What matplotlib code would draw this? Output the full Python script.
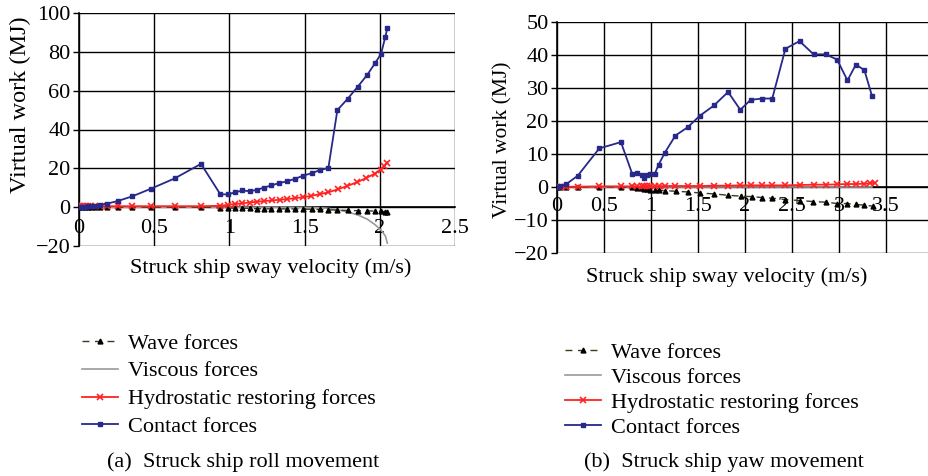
import matplotlib
matplotlib.use("Agg")
import matplotlib.pyplot as plt

plt.rcParams["font.family"] = ["Liberation Serif", "DejaVu Serif"]

# ---------------------------------------------------------------------------
# (a) roll movement
# ---------------------------------------------------------------------------
roll_v = [0.0, 0.018, 0.038, 0.06, 0.082, 0.106, 0.137, 0.186, 0.259, 0.355,
          0.481, 0.636, 0.811, 0.94, 0.99, 1.037, 1.086, 1.135, 1.183, 1.23,
          1.279, 1.33, 1.383, 1.436, 1.49, 1.547, 1.602, 1.658, 1.718, 1.786,
          1.853, 1.917, 1.968, 2.008, 2.037, 2.05]
roll_contact = [0.3, 0.3, 0.3, 0.4, 0.5, 0.7, 1.1, 1.8, 3.2, 5.6,
                9.6, 14.8, 22.3, 6.6, 6.6, 7.6, 8.6, 8.2, 8.9, 10.1,
                11.2, 12.4, 13.3, 14.6, 16.2, 17.5, 19.1, 20.2, 50.0, 55.8,
                62.0, 68.2, 74.1, 78.9, 87.8, 92.1]

roll_hyd_v = [0.0, 0.018, 0.038, 0.06, 0.082, 0.106, 0.137, 0.186, 0.259, 0.355,
              0.481, 0.636, 0.811, 0.94, 0.99, 1.037, 1.086, 1.134, 1.183, 1.229,
              1.283, 1.334, 1.385, 1.438, 1.491, 1.544, 1.6, 1.655, 1.721, 1.783,
              1.85, 1.907, 1.965, 2.005, 2.03, 2.05]
roll_hydro = [0.5, 0.5, 0.5, 0.5, 0.5, 0.5, 0.5, 0.5, 0.5, 0.5,
              0.5, 0.5, 0.5, 0.7, 1.2, 1.6, 2.0, 2.4, 2.8, 3.1,
              3.5, 3.8, 4.2, 4.6, 5.2, 5.8, 6.7, 7.6, 9.2, 10.9,
              12.9, 14.9, 17.2, 19.3, 21.2, 23.0]
roll_wave = [0.0, 0.0, 0.0, 0.0, 0.0, 0.0, 0.0, 0.0, 0.0, 0.0,
             0.0, 0.0, 0.0, -0.3, -0.5, -0.5, -0.6, -0.6, -0.8, -0.8,
             -0.9, -0.9, -0.9, -0.9, -1.0, -1.1, -1.2, -1.4, -1.5, -1.7,
             -1.8, -1.9, -2.0, -2.1, -2.4, -2.7]
roll_viscous = [0.0, 0.0, 0.0, 0.0, 0.0, 0.0, 0.0, 0.0, 0.0, 0.0,
                0.0, 0.0, 0.0, 0.0, 0.0, 0.0, 0.0, 0.0, 0.0, 0.0,
                0.0, 0.0, 0.0, -0.1, -0.1, -0.2, -0.3, -0.6, -1.3, -2.5,
                -4.0, -6.2, -9.0, -11.8, -14.8, -18.5]

# ---------------------------------------------------------------------------
# (b) yaw movement
# ---------------------------------------------------------------------------
yaw_v = [0.0, 0.035, 0.1, 0.22, 0.45, 0.68, 0.8, 0.855, 0.9, 0.93,
         0.96, 0.99, 1.04, 1.08, 1.145, 1.26, 1.39, 1.52, 1.67, 1.82,
         1.95, 2.06, 2.18, 2.29, 2.43, 2.58, 2.73, 2.86, 2.98, 3.09,
         3.18, 3.27, 3.35]
yaw_contact = [0.0, 0.2, 0.9, 3.4, 11.7, 13.6, 4.0, 4.1, 3.5, 2.8,
               3.6, 4.0, 4.0, 6.7, 10.3, 15.6, 18.1, 21.6, 24.7, 28.8,
               23.4, 26.4, 26.8, 26.8, 41.9, 44.2, 40.2, 40.2, 38.6, 32.3,
               37.1, 35.4, 27.7]

yaw_hyd_v = [0.0, 0.035, 0.1, 0.22, 0.45, 0.68, 0.8, 0.855, 0.9, 0.93,
             0.96, 0.99, 1.04, 1.08, 1.145, 1.26, 1.39, 1.52, 1.67, 1.82,
             1.95, 2.06, 2.18, 2.29, 2.43, 2.58, 2.73, 2.86, 2.98, 3.09,
             3.18, 3.27, 3.33, 3.38]
yaw_hydro = [0.1, 0.1, 0.1, 0.1, 0.2, 0.2, 0.2, 0.2, 0.2, 0.2,
             0.2, 0.2, 0.2, 0.2, 0.3, 0.3, 0.3, 0.3, 0.4, 0.4,
             0.5, 0.5, 0.5, 0.5, 0.5, 0.6, 0.7, 0.7, 0.8, 0.9,
             0.9, 1.0, 1.1, 1.3]

yaw_wave_v = [0.0, 0.035, 0.1, 0.22, 0.45, 0.68, 0.8, 0.855, 0.9, 0.93,
              0.96, 0.99, 1.04, 1.08, 1.145, 1.27, 1.39, 1.52, 1.67, 1.82,
              1.96, 2.07, 2.18, 2.29, 2.43, 2.58, 2.72, 2.86, 2.98, 3.08,
              3.18, 3.27, 3.36]
yaw_wave = [0.0, 0.0, 0.0, 0.0, 0.0, 0.0, -0.1, -0.2, -0.3, -0.5,
            -0.6, -0.8, -0.9, -1.0, -1.1, -1.3, -1.5, -1.8, -2.1, -2.5,
            -2.8, -2.9, -3.2, -3.4, -3.8, -4.1, -4.4, -4.6, -5.0, -5.0,
            -5.3, -5.5, -5.8]
yaw_viscous = [0.0, 0.0, 0.0, 0.0, 0.0, 0.0, 0.0, 0.0, 0.0, 0.0,
               0.0, 0.0, 0.0, 0.0, 0.0, 0.0, 0.0, 0.0, 0.0, 0.0,
               0.0, 0.0, 0.0, 0.0, 0.0, 0.0, 0.0, 0.0, 0.0, 0.0,
               0.0, 0.0, 0.0]

LABELS = ["Wave forces", "Viscous forces", "Hydrostatic restoring forces", "Contact forces"]

C_WAVE_LINE = "#3b3b1e"
C_VISC = "#9a9a9a"
C_HYD = "#ff2222"
C_CONT = "#27288a"

FS = 16


def draw_panel(ax, v_wave, wave, v_visc, visc, v_hyd, hyd, v_cont, cont, xpad):
    ax.plot(v_wave, wave, ls=(0, (5, 4)), color=C_WAVE_LINE, lw=1.0,
            marker="^", ms=3.5, mfc="black", mec="black", label=LABELS[0], zorder=4)
    ax.plot(v_visc, visc, color=C_VISC, lw=1.2, label=LABELS[1], zorder=3)
    ax.plot(v_hyd, hyd, color=C_HYD, lw=1.3, marker="x", ms=5, mew=1.2,
            label=LABELS[2], zorder=5)
    ax.plot(v_cont, cont, color=C_CONT, lw=1.3, marker="s", ms=3.5,
            label=LABELS[3], zorder=6)

    ax.grid(True, color="black", lw=1.0)
    ax.set_axisbelow(True)
    for side in ["top", "right"]:
        ax.spines[side].set_visible(False)
    ax.spines["bottom"].set_position(("data", 0))
    ax.spines["left"].set_linewidth(1.2)
    ax.spines["bottom"].set_linewidth(1.2)
    ax.tick_params(axis="x", length=0, pad=xpad, labelsize=FS)
    ax.tick_params(axis="y", length=4, width=1.0, pad=2, labelsize=FS)


fig = plt.figure(figsize=(9.29, 4.76), dpi=100)

ax1 = fig.add_axes([79 / 929, 1 - 246 / 476, 376 / 929, 233 / 476])
draw_panel(ax1, roll_v, roll_wave, roll_v, roll_viscous, roll_hyd_v, roll_hydro,
           roll_v, roll_contact, xpad=8.5)
ax1.set_xlim(0, 2.5)
ax1.set_ylim(-20, 100)
ax1.set_xticks([0, 0.5, 1, 1.5, 2, 2.5])
ax1.set_xticklabels(["0", "0.5", "1", "1.5", "2", "2.5"])
ax1.set_yticks([-20, 0, 20, 40, 60, 80, 100])
ax1.set_yticklabels(["\u221220", "0", "20", "40", "60", "80", "100"])
ax1.set_xlabel("Struck ship sway velocity (m/s)", fontsize=FS, va="center")
ax1.xaxis.set_label_coords(0.51, -0.095)
ax1.set_ylabel("Virtual work (MJ)", fontsize=17.5, va="center")
ax1.yaxis.set_label_coords(-59 / 376, 0.605)

ax2 = fig.add_axes([557 / 929, 1 - 253 / 476, 376 / 929, 231 / 476])
draw_panel(ax2, yaw_wave_v, yaw_wave, yaw_v, yaw_viscous, yaw_hyd_v, yaw_hydro,
           yaw_v, yaw_contact, xpad=7.5)
ax2.set_xlim(0, 4)
ax2.set_ylim(-20, 50)
ax2.set_xticks([0, 0.5, 1, 1.5, 2, 2.5, 3, 3.5, 4])
ax2.set_xticklabels(["0", "0.5", "1", "1.5", "2", "2.5", "3", "3.5", "4"])
ax2.set_yticks([-20, -10, 0, 10, 20, 30, 40, 50])
ax2.set_yticklabels(["\u221220", "\u221210", "0", "10", "20", "30", "40", "50"])
ax2.set_xlabel("Struck ship sway velocity (m/s)", fontsize=FS, va="center")
ax2.xaxis.set_label_coords(0.45, -0.104)
ax2.set_ylabel("Virtual work (MJ)", fontsize=15.5, va="center")
ax2.yaxis.set_label_coords(-54 / 376, 0.489)

# legends below each panel
leg_kw = dict(loc="upper left", bbox_transform=fig.transFigure, frameon=False,
              fontsize=16, handlelength=1.6, handletextpad=0.45, labelspacing=0.33,
              borderpad=0, borderaxespad=0)
ax1.legend(bbox_to_anchor=(82 / 929, 1 - 333 / 476), **leg_kw)
ax2.legend(bbox_to_anchor=(565 / 929, 1 - 342 / 476),
           **{**leg_kw, "labelspacing": 0.2})

fig.text(107 / 929, 1 - 462 / 476, "(a)  Struck ship roll movement", fontsize=16,
         ha="left", va="center")
fig.text(584 / 929, 1 - 462 / 476, "(b)  Struck ship yaw movement", fontsize=16,
         ha="left", va="center")

fig.savefig("out.png", dpi=100)
